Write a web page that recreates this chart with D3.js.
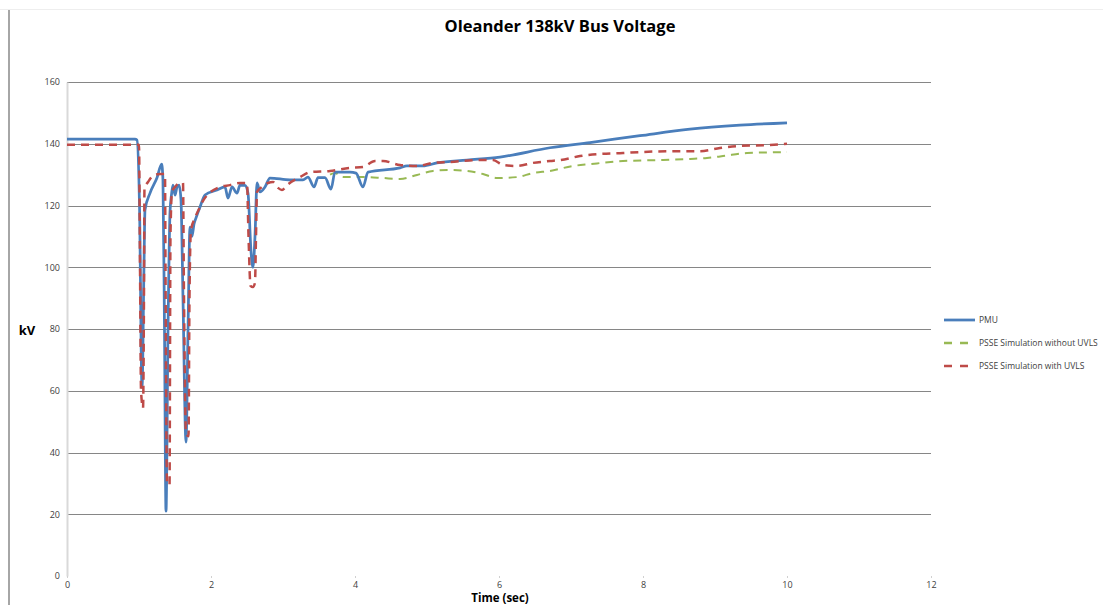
<!DOCTYPE html>
<html>
<head>
<meta charset="utf-8">
<script src="https://cdn.jsdelivr.net/npm/d3@7"></script>
<style>
  body { margin: 0; background: #fff; }
  svg { display: block; }
  .tick text { font-family: "Open Sans", sans-serif; font-size: 9px; fill: #404040; }
</style>
</head>
<body>
<div class="chart"></div>
<script>
// time (sec) and voltage (kV)
var pmuTime = [0, 0.944, 0.972, 1.007, 1.042, 1.069, 1.083, 1.153, 1.25, 1.315, 1.333, 1.354, 1.375, 1.403, 1.431,
    1.454, 1.472, 1.5, 1.528, 1.556, 1.583, 1.611, 1.653, 1.681, 1.708, 1.736, 1.764, 1.792, 1.847, 1.917, 2.083,
    2.194, 2.236, 2.292, 2.361, 2.403, 2.472, 2.514, 2.556, 2.583, 2.611, 2.639, 2.681, 2.75, 2.819, 3.097, 3.278,
    3.347, 3.431, 3.486, 3.583, 3.667, 3.722, 3.931, 4.014, 4.111, 4.181, 4.625, 4.722, 4.944, 5.139, 5.556, 6.014,
    6.708, 7.264, 7.958, 8.653, 9.347, 10];
var pmuKv = [141.5, 141.5, 141.2, 120, 61, 100, 118.5, 124, 129, 133.4, 128, 80, 21, 80, 118,
    124, 126.6, 123.4, 126, 126.6, 122, 90, 43.4, 80, 113, 110, 114, 116, 119.5, 123.4, 125,
    126, 122.4, 126, 124, 126.6, 126.5, 124, 105, 100, 110, 127.3, 124.4, 126, 128.9, 128.3, 128.3,
    129.2, 126, 129, 129, 125.3, 130.8, 130.8, 130.5, 126, 130.8, 132.2, 132.8, 132.8, 133.8, 134.7, 135.7,
    138.7, 140.4, 142.6, 144.7, 146, 146.8];

var noUvlsTime = [3.653, 3.722, 3.833, 4.167, 4.389, 4.625, 4.861, 5.083, 5.319, 5.556, 5.778, 5.972, 6.25, 6.472,
    6.708, 7.028, 7.264, 7.722, 8.194, 8.653, 8.889, 9.111, 9.444, 10];
var noUvlsKv = [130, 130.5, 129.2, 129.2, 128.9, 128.6, 129.9, 131.2, 131.5, 131.2, 130.2, 128.9, 129.2, 130.5,
    131.2, 132.8, 133.4, 134.4, 134.7, 135.1, 135.4, 136, 137, 137.3];

var uvlsTime = [0, 1.0, 1.014, 1.028, 1.056, 1.069, 1.076, 1.125, 1.194, 1.292, 1.361, 1.368, 1.389, 1.424, 1.437,
    1.458, 1.5, 1.569, 1.611, 1.625, 1.653, 1.688, 1.701, 1.722, 1.778, 1.847, 1.889, 1.986, 2.125, 2.264, 2.403,
    2.5, 2.521, 2.549, 2.583, 2.611, 2.625, 2.639, 2.708, 2.792, 2.861, 2.931, 2.986, 3.056, 3.236, 3.375, 3.653,
    3.931, 4.111, 4.278, 4.389, 4.625, 4.861, 5.083, 5.319, 5.694, 5.917, 6.056, 6.25, 6.472, 6.708, 6.847, 7.125,
    7.403, 7.722, 7.958, 8.417, 8.792, 9.069, 9.347, 9.764, 10];
var uvlsKv = [139.7, 139.7, 100, 60, 54.4, 90, 125.7, 127.6, 129.6, 130.2, 130.2, 100, 30, 29.5, 110,
    124.4, 126, 127.3, 127.3, 90, 46, 45.3, 90, 112, 116, 119.5, 121.5, 124.2, 126, 126.6, 127.3,
    127.3, 110, 94, 93.6, 95, 110, 124.4, 126, 127.3, 127.6, 125.7, 125, 126.6, 129.2, 130.8, 131.2,
    132.2, 132.5, 134.4, 134.4, 133.1, 132.8, 133.8, 134.1, 134.7, 134.7, 133.1, 132.8, 133.8, 134.4, 134.7, 136,
    136.7, 137, 137.3, 137.6, 137.6, 138.6, 139.3, 139.6, 140];

var xTicks = [0, 2, 4, 6, 8, 10, 12];
var yTicks = [0, 20, 40, 60, 80, 100, 120, 140, 160];
var seriesNames = ['PMU', 'PSSE Simulation without UVLS', 'PSSE Simulation with UVLS'];
var seriesColors = ['#4a7ebb', '#98b954', '#be4b48'];

var W = 1103, H = 605;
var plot = { left: 67, right: 931, top: 82, bottom: 576 };

var svg = d3.select('.chart').append('svg').attr('width', W).attr('height', H);

// outer chart frame
svg.append('line').attr('x1', 0).attr('x2', W).attr('y1', 9.5).attr('y2', 9.5)
    .attr('stroke', '#eeeeee').attr('stroke-width', 1);
svg.append('line').attr('x1', 9).attr('x2', 9).attr('y1', 10).attr('y2', H)
    .attr('stroke', '#a6a6a6').attr('stroke-width', 2);

var x = d3.scaleLinear().domain([0, 12]).range([plot.left, plot.right]);
var y = d3.scaleLinear().domain([0, 160]).range([plot.bottom, plot.top]);

// gridlines
svg.append('g').selectAll('line')
    .data(yTicks.filter(function (d) { return d > 0; }))
    .enter().append('line')
    .attr('x1', plot.left).attr('x2', plot.right)
    .attr('y1', function (d) { return Math.round(y(d)) + 0.5; })
    .attr('y2', function (d) { return Math.round(y(d)) + 0.5; })
    .attr('stroke', '#868686').attr('stroke-width', 1);

// y axis
var yAxis = d3.axisLeft(y).tickValues(yTicks).tickSize(0).tickPadding(7);
var gy = svg.append('g').attr('transform', 'translate(' + plot.left + ',0)').call(yAxis);
gy.select('.domain').attr('stroke', '#d9d9d9').attr('stroke-width', 2);

// x axis
var xAxis = d3.axisBottom(x).tickValues(xTicks).tickSize(2).tickPadding(4);
var gx = svg.append('g').attr('transform', 'translate(0,' + plot.bottom + ')').call(xAxis);
gx.select('.domain').remove();
gx.selectAll('.tick line').attr('stroke', '#d0d0d0');

var line = d3.line()
    .x(function (d) { return x(d[0]); })
    .y(function (d) { return y(d[1]); })
    .curve(d3.curveMonotoneX);

var noUvls = d3.zip(noUvlsTime, noUvlsKv);
var uvls = d3.zip(uvlsTime, uvlsKv);
var pmu = d3.zip(pmuTime, pmuKv);

svg.append('path').datum(noUvls).attr('d', line)
    .attr('fill', 'none').attr('stroke', seriesColors[1]).attr('stroke-width', 2)
    .attr('stroke-dasharray', '8,6');
svg.append('path').datum(pmu).attr('d', line)
    .attr('fill', 'none').attr('stroke', seriesColors[0]).attr('stroke-width', 2.75)
    .attr('stroke-linejoin', 'round');
svg.append('path').datum(uvls).attr('d', line)
    .attr('fill', 'none').attr('stroke', seriesColors[2]).attr('stroke-width', 2.5)
    .attr('stroke-dasharray', '8,6');

// titles
svg.append('text').attr('x', 560).attr('y', 32).attr('text-anchor', 'middle')
    .attr('font-family', '"Open Sans", sans-serif').attr('font-weight', 'bold').attr('font-size', 16.5)
    .attr('fill', '#000').text('Oleander 138kV Bus Voltage');
svg.append('text').attr('x', 27).attr('y', 335).attr('text-anchor', 'middle')
    .attr('font-family', '"Open Sans", sans-serif').attr('font-weight', 'bold').attr('font-size', 13)
    .attr('fill', '#000').text('kV');
svg.append('text').attr('x', 500).attr('y', 602).attr('text-anchor', 'middle')
    .attr('font-family', '"Open Sans", sans-serif').attr('font-weight', 'bold').attr('font-size', 11.5)
    .attr('fill', '#000').text('Time (sec)');

// legend
var legend = svg.append('g').attr('transform', 'translate(944,320)');
var item = legend.selectAll('g').data(seriesNames).enter().append('g')
    .attr('transform', function (d, i) { return 'translate(0,' + (i * 23) + ')'; });
item.append('line').attr('x1', 0).attr('x2', 31).attr('y1', 0).attr('y2', 0)
    .attr('stroke', function (d, i) { return seriesColors[i]; })
    .attr('stroke-width', function (d, i) { return i === 0 ? 2.75 : 2.5; })
    .attr('stroke-dasharray', function (d, i) { return i === 0 ? null : '8,8'; });
item.append('text').attr('x', 35).attr('y', 3)
    .attr('font-family', '"Open Sans", sans-serif').attr('font-size', 8.5).attr('fill', '#404040')
    .text(function (d) { return d; });
</script>
</body>
</html>
